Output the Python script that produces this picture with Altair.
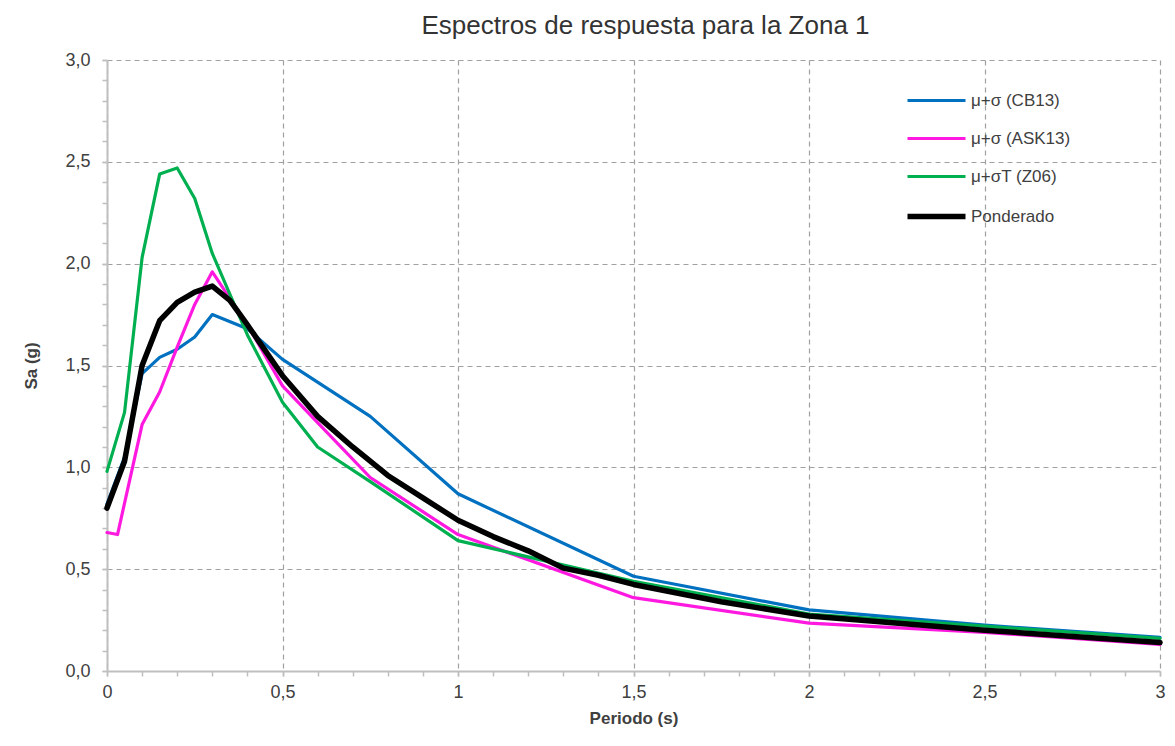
import altair as alt
import pandas as pd

series_names = ["μ+σ (CB13)", "μ+σ (ASK13)", "μ+σT (Z06)", "Ponderado"]
series_colors = ["#0070C0", "#FF19E0", "#00B050", "#000000"]
series_widths = [3.2, 3.2, 3.2, 5.5]

cb13_t = [0, 0.05, 0.1, 0.15, 0.2, 0.25, 0.3, 0.4, 0.5, 0.75, 1.0, 1.5, 2.0, 2.5, 3.0]
cb13_sa = [0.82, 1.05, 1.46, 1.54, 1.58, 1.64, 1.75, 1.68, 1.53, 1.25, 0.87, 0.465, 0.30, 0.225, 0.165]

ask13_t = [0, 0.03, 0.1, 0.15, 0.2, 0.25, 0.3, 0.4, 0.5, 0.6, 0.75, 1.0, 1.5, 2.0, 2.5, 3.0]
ask13_sa = [0.68, 0.67, 1.21, 1.37, 1.59, 1.80, 1.96, 1.70, 1.40, 1.22, 0.95, 0.67, 0.36, 0.235, 0.19, 0.13]

z06_t = [0, 0.05, 0.1, 0.15, 0.2, 0.25, 0.3, 0.4, 0.5, 0.6, 0.75, 1.0, 1.5, 2.0, 2.5, 3.0]
z06_sa = [0.98, 1.27, 2.03, 2.44, 2.47, 2.32, 2.05, 1.65, 1.32, 1.10, 0.93, 0.64, 0.44, 0.28, 0.22, 0.16]

pond_t = [0, 0.05, 0.1, 0.15, 0.2, 0.25, 0.3, 0.35, 0.4, 0.5, 0.6, 0.7, 0.75, 0.8, 0.9, 1.0,
          1.1, 1.2, 1.3, 1.4, 1.5, 1.75, 2.0, 2.5, 3.0]
pond_sa = [0.80, 1.03, 1.50, 1.72, 1.81, 1.86, 1.89, 1.82, 1.70, 1.45, 1.25, 1.10, 1.03, 0.96, 0.85, 0.74,
           0.66, 0.59, 0.505, 0.47, 0.425, 0.34, 0.27, 0.20, 0.14]

major_x = [0, 0.5, 1, 1.5, 2, 2.5, 3]
major_y = [0, 0.5, 1.0, 1.5, 2.0, 2.5, 3.0]
minor_x = [round(0.1 * i, 1) for i in range(31)]
minor_y = [round(0.1 * i, 1) for i in range(31)]

rows = []
for name, ts, vs in zip(series_names, [cb13_t, ask13_t, z06_t, pond_t],
                        [cb13_sa, ask13_sa, z06_sa, pond_sa]):
    for i, (t, v) in enumerate(zip(ts, vs)):
        rows.append({"series": name, "T": t, "Sa": v, "ord": i})
df = pd.DataFrame(rows)

FONT = "Liberation Sans"
AXIS_GRAY = "#BFBFBF"
GRID_GRAY = "#A0A0A0"
LABEL_COLOR = "#404040"

xscale = alt.Scale(domain=[0, 3], nice=False, zero=False)
yscale = alt.Scale(domain=[0, 3], nice=False, zero=False)

lines = alt.Chart(df).mark_line(strokeJoin="round", strokeCap="round").encode(
    x=alt.X("T:Q", scale=xscale, title="Periodo (s)",
            axis=alt.Axis(orient="bottom", values=major_x, grid=True, gridDash=[5, 4],
                          gridColor=GRID_GRAY, gridWidth=1.2, domainColor=AXIS_GRAY, domainWidth=2,
                          tickColor=AXIS_GRAY, tickSize=5, tickWidth=1.5,
                          labelExpr="replace(toString(datum.value), '.', ',')",
                          labelFont=FONT, labelFontSize=18, labelColor=LABEL_COLOR,
                          labelPadding=7, titleFont=FONT, titleFontSize=17,
                          titleFontWeight="bold", titleColor=LABEL_COLOR, titlePadding=9,
                          labelFlush=False)),
    y=alt.Y("Sa:Q", scale=yscale, title="Sa (g)",
            axis=alt.Axis(orient="left", values=major_y, grid=True, gridDash=[5, 4],
                          gridColor=GRID_GRAY, gridWidth=1.2, domainColor=AXIS_GRAY, domainWidth=2,
                          tickColor=AXIS_GRAY, tickSize=5, tickWidth=1.5,
                          labelExpr="replace(format(datum.value, '.1f'), '.', ',')",
                          labelFont=FONT, labelFontSize=18, labelColor=LABEL_COLOR,
                          labelPadding=12, titleFont=FONT, titleFontSize=17,
                          titleFontWeight="bold", titleColor=LABEL_COLOR, titlePadding=24,
                          labelFlush=False)),
    color=alt.Color("series:N", scale=alt.Scale(domain=series_names, range=series_colors),
                    title=None,
                    legend=alt.Legend(orient="none", legendX=845, legendY=32,
                                      symbolType="M-10.6,0L1,0", symbolSize=100,
                                      labelFont=FONT, labelFontSize=17, labelColor=LABEL_COLOR,
                                      labelOffset=2, rowPadding=20, padding=0)),
    strokeWidth=alt.StrokeWidth("series:N", title=None,
                                scale=alt.Scale(type="ordinal", domain=series_names,
                                                range=series_widths)),
    order="ord:Q",
)

minor = alt.Chart(df).mark_point(opacity=0).encode(
    x=alt.X("T:Q", scale=xscale, title=None,
            axis=alt.Axis(values=minor_x, labels=False, grid=False, domain=False,
                          tickColor=AXIS_GRAY, tickSize=5, tickWidth=1.5, orient="bottom")),
    y=alt.Y("Sa:Q", scale=yscale, title=None,
            axis=alt.Axis(values=minor_y, labels=False, grid=False, domain=False,
                          tickColor=AXIS_GRAY, tickSize=5, tickWidth=1.5, orient="left")),
)

chart = alt.layer(minor, lines).resolve_axis(x="independent", y="independent").properties(
    width=1053, height=611,
    autosize=alt.AutoSizeParams(type="none"),
    padding={"left": 107, "top": 60, "right": 15, "bottom": 75},
    title=alt.TitleParams("Espectros de respuesta para la Zona 1", font=FONT, fontSize=26,
                          fontWeight="normal", color="#333333", offset=12, dx=12),
    background="white",
).configure_view(stroke=None)

chart.save("out.html", embed_options={"renderer": "svg", "actions": False})
